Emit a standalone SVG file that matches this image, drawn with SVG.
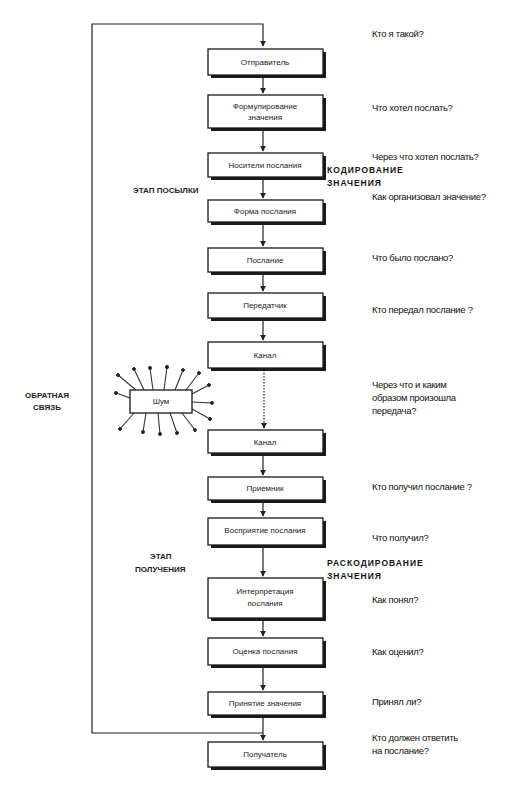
<svg xmlns="http://www.w3.org/2000/svg" width="519" height="793" viewBox="0 0 519 793">
<style>
.box rect.b{fill:#fff;stroke:#1a1a1a;stroke-width:1.3}
.box rect.s{fill:#1a1a1a}
.t{font-family:"Liberation Sans",Arial,sans-serif;font-size:8px;fill:#222;text-anchor:middle}
.q{font-family:"Liberation Sans",Arial,sans-serif;font-size:9.5px;fill:#111;letter-spacing:-0.3px}
.lab{font-family:"Liberation Sans",Arial,sans-serif;font-size:8px;font-weight:bold;fill:#222}
.big{font-family:"Liberation Sans",Arial,sans-serif;font-size:8.5px;font-weight:bold;fill:#111;letter-spacing:1px}
.ln{stroke:#222;stroke-width:1.2;fill:none}
.ray{stroke:#333;stroke-width:1.1;fill:none;marker-end:url(#dot)}
</style>
<defs>
<marker id="ah" viewBox="0 0 8 8" refX="7" refY="4" markerWidth="5" markerHeight="5" orient="auto"><path d="M0,0 L8,4 L0,8 z" fill="#222"/></marker>
<marker id="dot" viewBox="0 0 6 6" refX="3" refY="3" markerWidth="3.5" markerHeight="3.5" orient="auto"><circle cx="3" cy="3" r="3" fill="#222"/></marker>
</defs>
<rect width="519" height="793" fill="#fff"/>

<g id="connectors">
<path class="ln" d="M263,733 L92,733 L92,24 L263,24 L263,46" marker-end="url(#ah)"/>
<path class="ln" d="M263,77 L263,93" marker-end="url(#ah)"/>
<path class="ln" d="M263,130 L263,151" marker-end="url(#ah)"/>
<path class="ln" d="M263,179 L263,198" marker-end="url(#ah)"/>
<path class="ln" d="M263,224 L263,246" marker-end="url(#ah)"/>
<path class="ln" d="M263,274 L263,291" marker-end="url(#ah)"/>
<path class="ln" d="M263,320 L263,340" marker-end="url(#ah)"/>
<path class="ln" d="M264,370 L264,428" stroke-dasharray="1.5,1.5" marker-end="url(#ah)"/>
<path class="ln" d="M263,455 L263,475" marker-end="url(#ah)"/>
<path class="ln" d="M263,502 L263,516" marker-end="url(#ah)"/>
<path class="ln" d="M263,547 L263,576" marker-end="url(#ah)"/>
<path class="ln" d="M263,620 L263,636" marker-end="url(#ah)"/>
<path class="ln" d="M263,667 L263,690" marker-end="url(#ah)"/>
<path class="ln" d="M263,717 L263,740" marker-end="url(#ah)"/>
</g>

<g id="n1" class="box"><rect class="s" x="211" y="52" width="115" height="26"/><rect class="b" x="208" y="49" width="115" height="26"/><text class="t" x="265" y="65">Отправитель</text></g>
<g id="n2" class="box"><rect class="s" x="211" y="98" width="115" height="33"/><rect class="b" x="208" y="95" width="115" height="33"/><text class="t" x="265" y="109">Формулирование</text><text class="t" x="265" y="120">значения</text></g>
<g id="n3" class="box"><rect class="s" x="211" y="156" width="115" height="24"/><rect class="b" x="208" y="153" width="115" height="24"/><text class="t" x="265" y="168">Носители послания</text></g>
<g id="n4" class="box"><rect class="s" x="211" y="203" width="115" height="22"/><rect class="b" x="208" y="200" width="115" height="22"/><text class="t" x="265" y="214">Форма послания</text></g>
<g id="n5" class="box"><rect class="s" x="211" y="251" width="115" height="24"/><rect class="b" x="208" y="248" width="115" height="24"/><text class="t" x="265" y="263">Послание</text></g>
<g id="n6" class="box"><rect class="s" x="211" y="296" width="115" height="25"/><rect class="b" x="208" y="293" width="115" height="25"/><text class="t" x="265" y="308">Передатчик</text></g>
<g id="n7" class="box"><rect class="s" x="211" y="345" width="115" height="26"/><rect class="b" x="208" y="342" width="115" height="26"/><text class="t" x="265" y="358">Канал</text></g>

<g id="noise">
<path class="ray" d="M136,390 L118,375"/>
<path class="ray" d="M144,390 L134,369"/>
<path class="ray" d="M153,390 L150,368"/>
<path class="ray" d="M164,390 L167,367"/>
<path class="ray" d="M175,390 L183,370"/>
<path class="ray" d="M186,390 L199,373"/>
<path class="ray" d="M192,394 L209,385"/>
<path class="ray" d="M192,402 L212,403"/>
<path class="ray" d="M192,409 L210,419"/>
<path class="ray" d="M130,398 L116,393"/>
<path class="ray" d="M134,413 L120,429"/>
<path class="ray" d="M146,413 L143,432"/>
<path class="ray" d="M158,413 L160,434"/>
<path class="ray" d="M170,413 L177,433"/>
<path class="ray" d="M182,413 L195,430"/>
<g class="box"><rect class="b" x="130" y="390" width="62" height="23"/></g>
<text class="t" x="161" y="404">Шум</text>
</g>

<g id="n8" class="box"><rect class="s" x="211" y="433" width="115" height="23"/><rect class="b" x="208" y="430" width="115" height="23"/><text class="t" x="265" y="445">Канал</text></g>
<g id="n9" class="box"><rect class="s" x="211" y="480" width="115" height="23"/><rect class="b" x="208" y="477" width="115" height="23"/><text class="t" x="265" y="491">Приемник</text></g>
<g id="n10" class="box"><rect class="s" x="211" y="521" width="115" height="27"/><rect class="b" x="208" y="518" width="115" height="27"/><text class="t" x="265" y="533">Восприятие послания</text></g>
<g id="n11" class="box"><rect class="s" x="211" y="581" width="115" height="40"/><rect class="b" x="208" y="578" width="115" height="40"/><text class="t" x="265" y="594">Интерпретация</text><text class="t" x="265" y="606">послания</text></g>
<g id="n12" class="box"><rect class="s" x="211" y="641" width="115" height="27"/><rect class="b" x="208" y="638" width="115" height="27"/><text class="t" x="265" y="654">Оценка послания</text></g>
<g id="n13" class="box"><rect class="s" x="211" y="695" width="115" height="23"/><rect class="b" x="208" y="692" width="115" height="23"/><text class="t" x="265" y="706">Принятие значения</text></g>
<g id="n14" class="box"><rect class="s" x="211" y="745" width="115" height="25"/><rect class="b" x="208" y="742" width="115" height="25"/><text class="t" x="265" y="757">Получатель</text></g>

<g id="labels">
<text class="lab" x="133" y="193">ЭТАП ПОСЫЛКИ</text>
<text class="lab" x="47" y="398" text-anchor="middle">ОБРАТНАЯ</text>
<text class="lab" x="47" y="410" text-anchor="middle">СВЯЗЬ</text>
<text class="lab" x="150" y="559">ЭТАП</text>
<text class="lab" x="135" y="572">ПОЛУЧЕНИЯ</text>
<text class="big" x="327" y="173">КОДИРОВАНИЕ</text>
<text class="big" x="327" y="186">ЗНАЧЕНИЯ</text>
<text class="big" x="327" y="566">РАСКОДИРОВАНИЕ</text>
<text class="big" x="327" y="579">ЗНАЧЕНИЯ</text>
</g>

<g id="questions">
<text class="q" x="372" y="37">Кто я такой?</text>
<text class="q" x="372" y="111">Что хотел послать?</text>
<text class="q" x="372" y="160">Через что хотел послать?</text>
<text class="q" x="372" y="200">Как организовал значение?</text>
<text class="q" x="372" y="261">Что было послано?</text>
<text class="q" x="372" y="313">Кто передал послание ?</text>
<text class="q" x="372" y="388">Через что и каким</text>
<text class="q" x="372" y="401">образом произошла</text>
<text class="q" x="372" y="414">передача?</text>
<text class="q" x="372" y="490">Кто получил послание ?</text>
<text class="q" x="372" y="541">Что получил?</text>
<text class="q" x="372" y="603">Как понял?</text>
<text class="q" x="372" y="655">Как оценил?</text>
<text class="q" x="372" y="705">Принял ли?</text>
<text class="q" x="372" y="741">Кто должен ответить</text>
<text class="q" x="372" y="754">на послание?</text>
</g>
</svg>
